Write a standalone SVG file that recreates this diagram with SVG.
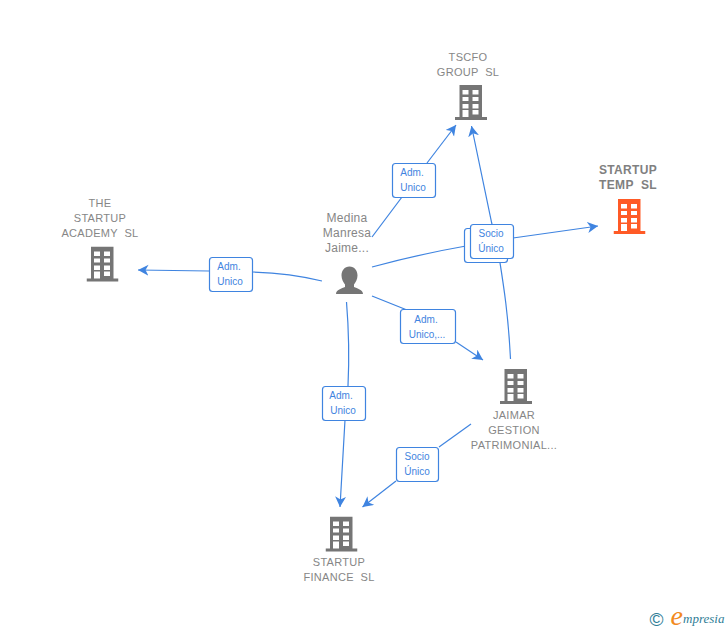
<svg xmlns="http://www.w3.org/2000/svg" width="728" height="630" viewBox="0 0 728 630">
<style>
text{font-family:"Liberation Sans",Arial,sans-serif;white-space:pre}
.n{font-size:11px;letter-spacing:.3px;fill:#868686;text-anchor:middle}
.t{font-size:12px;letter-spacing:.35px;font-weight:bold;fill:#808080;text-anchor:middle}
.p{font-size:12px;letter-spacing:.25px;fill:#868686;text-anchor:middle}
.l{font-size:10px;fill:#3f84e0;text-anchor:middle}
.b{fill:#fff;stroke:#3f84e0;stroke-width:1.2}
.c{fill:none;stroke:#3f84e0;stroke-width:1.2;marker-end:url(#a)}
.c0{fill:none;stroke:#3f84e0;stroke-width:1.2}
</style>
<defs>
<marker id="a" markerUnits="userSpaceOnUse" markerWidth="11" markerHeight="12" refX="10.5" refY="5.5" orient="auto"><path d="M10.5,5.5 L0,0 L3,5.5 L0,11 Z" fill="#3f84e0"/></marker>
<symbol id="bld" width="32" height="36" viewBox="0 0 32 36"><path fill-rule="evenodd" d="M4.500 0H27V32H32V35H0V32H4.500Z M7.500 5V9.500H13.500V5Z M17.500 5V9.500H23.500V5Z M7.500 12V16H13.500V12Z M17.500 12V16H23.500V12Z M7.500 19V23.500H13.500V19Z M17.500 19V23.500H23.500V19Z M7.500 25V32H13.500V25Z M17.500 25V29.500H23.500V25Z"/></symbol>
</defs>
<rect width="728" height="630" fill="#fff"/>
<g id="connectors">
<path class="c0" d="M372,237 L402,197"/><path class="c" d="M427,163 L456,125"/>
<path class="c" d="M510.500,359 C508,310 503,282 498,250 L491.700,223 L471.500,126"/>
<path class="c" d="M372,267 Q420,254 466,246 L513,238 L598,226"/>
<path class="c" d="M322,281 Q290,273 253,272 L209,271 L138,270"/>
<path class="c0" d="M372,296 L407,310"/><path class="c" d="M456,342 L483,360"/>
<path class="c" d="M346.500,302 Q350,345 348,386 L345,420 L340,507"/>
<path class="c0" d="M471,424 L439,447"/><path class="c" d="M396,481 L362.500,507"/>
</g>
<g id="tscfo"><use href="#bld" x="455" y="85" fill="#757575"/><text class="n" x="468" y="61">TSCFO</text><text class="n" x="468" y="76">GROUP  SL</text></g>
<g id="temp"><use href="#bld" x="613.500" y="199" fill="#ff5a26"/><text class="t" x="628" y="174">STARTUP</text><text class="t" x="628" y="189">TEMP  SL</text></g>
<g id="academy"><use href="#bld" x="86.500" y="246.500" fill="#757575"/><text class="n" x="100" y="207">THE</text><text class="n" x="100" y="222">STARTUP</text><text class="n" x="100" y="237">ACADEMY  SL</text></g>
<g id="medina"><path fill="#757575" d="M349.500,266.500c-5,0-8,4-8,9c0,4 2,7 3.500,9v2.500c-3,1.500-9,2.500-9,7h27c0-4.500-6-5.500-9-7v-2.500c1.500-2 3.500-5 3.500-9c0-5-3-9-8-9Z"/><text class="p" x="347" y="222">Medina</text><text class="p" x="347" y="237">Manresa</text><text class="p" x="347" y="252">Jaime...</text></g>
<g id="jaimar"><use href="#bld" x="500" y="369" fill="#757575"/><text class="n" x="514" y="419">JAIMAR</text><text class="n" x="514" y="434">GESTION</text><text class="n" x="514" y="449">PATRIMONIAL...</text></g>
<g id="finance"><use href="#bld" x="325.500" y="516.500" fill="#757575"/><text class="n" x="339" y="566">STARTUP</text><text class="n" x="339" y="581">FINANCE  SL</text></g>
<g id="labels">
<g><rect class="b" x="392.500" y="163.500" width="43" height="34" rx="3"/><text class="l" x="412" y="176">Adm.</text><text class="l" x="413" y="191">Unico</text></g>
<g><rect class="b" x="464.500" y="228.500" width="43" height="34" rx="3"/></g>
<g><rect class="b" x="470.500" y="224.500" width="43" height="34" rx="3"/><text class="l" x="491" y="237">Socio</text><text class="l" x="491" y="252">Único</text></g>
<g><rect class="b" x="209.500" y="257.500" width="43" height="34" rx="3"/><text class="l" x="229" y="270">Adm.</text><text class="l" x="230" y="285">Unico</text></g>
<g><rect class="b" x="400.500" y="309.500" width="55" height="34" rx="3"/><text class="l" x="426" y="323">Adm.</text><text class="l" x="427" y="338">Unico,...</text></g>
<g><rect class="b" x="322.500" y="386.500" width="43" height="34" rx="3"/><text class="l" x="341" y="399">Adm.</text><text class="l" x="343" y="414">Unico</text></g>
<g><rect class="b" x="396.500" y="447.500" width="42" height="34" rx="3"/><text class="l" x="417" y="460">Socio</text><text class="l" x="417" y="475">Único</text></g>
</g>
<g id="logo"><text x="649.500" y="625.500" font-size="19" style="fill:#2f7d96">©</text><text x="670.500" y="625" font-size="28" font-style="italic" style="font-family:'Liberation Serif',serif;fill:#f28a1e">e</text><text x="683" y="623" font-size="13" font-style="italic" style="font-family:'Liberation Serif',serif;fill:#2f7d96">mpresia</text></g>
</svg>
